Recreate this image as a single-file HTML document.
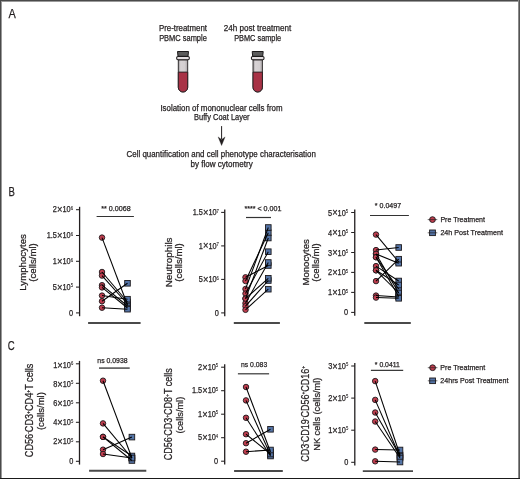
<!DOCTYPE html>
<html><head><meta charset="utf-8"><style>
html,body{margin:0;padding:0;background:#fff;}
svg{display:block;font-family:"Liberation Sans", sans-serif;will-change:transform;}
</style></head><body>
<svg width="520" height="479" viewBox="0 0 520 479">
<defs><linearGradient id="tg" x1="0" x2="1" y1="0" y2="0">
<stop offset="0" stop-color="#9a9698"/><stop offset="0.25" stop-color="#d8d3d5"/><stop offset="0.7" stop-color="#d3ced0"/><stop offset="1" stop-color="#a9a4a6"/></linearGradient></defs>
<rect x="0" y="0" width="520" height="1" fill="#4a4a4a"/>
<rect x="0" y="1" width="520" height="1" fill="#9a9a9a"/>
<rect x="0" y="0" width="1" height="479" fill="#4a4a4a"/>
<rect x="1" y="2" width="1" height="476" fill="#9a9a9a"/>
<rect x="518" y="0" width="1" height="479" fill="#8a8a8a"/>
<rect x="519" y="0" width="1" height="479" fill="#555555"/>
<rect x="0" y="478" width="520" height="1" fill="#1a1a1a"/>
<text x="8.4" y="17.8" font-size="12.2" text-anchor="start" fill="#231f20" textLength="7.3" lengthAdjust="spacingAndGlyphs" stroke="#231f20" stroke-width="0.25">A</text>
<text x="8.5" y="195.7" font-size="12.2" text-anchor="start" fill="#231f20" textLength="6.4" lengthAdjust="spacingAndGlyphs" stroke="#231f20" stroke-width="0.25">B</text>
<text x="7.8" y="349.8" font-size="12.2" text-anchor="start" fill="#231f20" textLength="6.9" lengthAdjust="spacingAndGlyphs" stroke="#231f20" stroke-width="0.25">C</text>
<text x="183" y="31.1" font-size="8.3" text-anchor="middle" fill="#231f20" textLength="48.1" lengthAdjust="spacingAndGlyphs" stroke="#231f20" stroke-width="0.25">Pre-treatment</text>
<text x="183" y="41" font-size="8.3" text-anchor="middle" fill="#231f20" textLength="47.7" lengthAdjust="spacingAndGlyphs" stroke="#231f20" stroke-width="0.25">PBMC sample</text>
<text x="257.5" y="31.1" font-size="8.3" text-anchor="middle" fill="#231f20" textLength="67.3" lengthAdjust="spacingAndGlyphs" stroke="#231f20" stroke-width="0.25">24h post treatment</text>
<text x="257.7" y="41" font-size="8.3" text-anchor="middle" fill="#231f20" textLength="47" lengthAdjust="spacingAndGlyphs" stroke="#231f20" stroke-width="0.25">PBMC sample</text>
<text x="221.5" y="111.1" font-size="8.3" text-anchor="middle" fill="#231f20" textLength="122.2" lengthAdjust="spacingAndGlyphs" stroke="#231f20" stroke-width="0.25">Isolation of mononuclear cells from</text>
<text x="221.8" y="120.2" font-size="8.3" text-anchor="middle" fill="#231f20" textLength="55.6" lengthAdjust="spacingAndGlyphs" stroke="#231f20" stroke-width="0.25">Buffy Coat Layer</text>
<text x="221.2" y="157.3" font-size="8.3" text-anchor="middle" fill="#231f20" textLength="189.3" lengthAdjust="spacingAndGlyphs" stroke="#231f20" stroke-width="0.25">Cell quantification and cell phenotype characterisation</text>
<text x="221.6" y="167.4" font-size="8.3" text-anchor="middle" fill="#231f20" textLength="62.3" lengthAdjust="spacingAndGlyphs" stroke="#231f20" stroke-width="0.25">by flow cytometry</text>
<g stroke="#231f20" stroke-width="0.9">
<path d="M178.3,59.8 L178.3,87.3 A4.7,4.7 0 0 0 187.7,87.3 L187.7,59.8 Z" fill="url(#tg)"/>
<path d="M178.3,72.1 L178.3,87.3 A4.7,4.7 0 0 0 187.7,87.3 L187.7,72.1 Z" fill="#a83246"/>
<path d="M177.5,51.5 L188.5,51.5 L188.0,56.3 L178.0,56.3 Z" fill="#5c5c5c" stroke="#1c1a1b" stroke-width="1"/>
<rect x="176.7" y="56.4" width="12.6" height="3.4" rx="1.2" fill="#e4dfe1" stroke="#1c1a1b" stroke-width="1.05"/>
</g>
<g stroke="#231f20" stroke-width="0.9">
<path d="M253.0,59.8 L253.0,87.3 A4.7,4.7 0 0 0 262.4,87.3 L262.4,59.8 Z" fill="url(#tg)"/>
<path d="M253.0,72.1 L253.0,87.3 A4.7,4.7 0 0 0 262.4,87.3 L262.4,72.1 Z" fill="#a83246"/>
<path d="M252.2,51.5 L263.2,51.5 L262.7,56.3 L252.7,56.3 Z" fill="#5c5c5c" stroke="#1c1a1b" stroke-width="1"/>
<rect x="251.39999999999998" y="56.4" width="12.6" height="3.4" rx="1.2" fill="#e4dfe1" stroke="#1c1a1b" stroke-width="1.05"/>
</g>
<line x1="221.6" y1="126.1" x2="221.6" y2="139" stroke="#231f20" stroke-width="1"/>
<path d="M218.1,136.9 L221.6,139.4 L225.1,136.9 L221.6,145.6 Z" fill="#231f20" stroke="#231f20" stroke-width="0.3" stroke-linejoin="round"/>
<line x1="79.6" y1="206.79999999999998" x2="79.6" y2="316.2" stroke="#231f20" stroke-width="1.3"/>
<line x1="76.0" y1="209.7" x2="79.6" y2="209.7" stroke="#231f20" stroke-width="1.05"/>
<text x="73.0" y="212.35" font-size="8.2" text-anchor="end" fill="#231f20" textLength="20.13" lengthAdjust="spacingAndGlyphs" stroke="#231f20" stroke-width="0.25">2<tspan font-size="10.4" dy="0.9">×</tspan><tspan dy="-0.9">10</tspan><tspan font-size="4.7" dy="-2.4" stroke-width="0.1">6</tspan></text>
<line x1="76.0" y1="235.5" x2="79.6" y2="235.5" stroke="#231f20" stroke-width="1.05"/>
<text x="73.0" y="238.15" font-size="8.2" text-anchor="end" fill="#231f20" textLength="26.29" lengthAdjust="spacingAndGlyphs" stroke="#231f20" stroke-width="0.25">1.5<tspan font-size="10.4" dy="0.9">×</tspan><tspan dy="-0.9">10</tspan><tspan font-size="4.7" dy="-2.4" stroke-width="0.1">6</tspan></text>
<line x1="76.0" y1="261.3" x2="79.6" y2="261.3" stroke="#231f20" stroke-width="1.05"/>
<text x="73.0" y="263.95" font-size="8.2" text-anchor="end" fill="#231f20" textLength="20.13" lengthAdjust="spacingAndGlyphs" stroke="#231f20" stroke-width="0.25">1<tspan font-size="10.4" dy="0.9">×</tspan><tspan dy="-0.9">10</tspan><tspan font-size="4.7" dy="-2.4" stroke-width="0.1">6</tspan></text>
<line x1="76.0" y1="287.1" x2="79.6" y2="287.1" stroke="#231f20" stroke-width="1.05"/>
<text x="73.0" y="289.75" font-size="8.2" text-anchor="end" fill="#231f20" textLength="20.13" lengthAdjust="spacingAndGlyphs" stroke="#231f20" stroke-width="0.25">5<tspan font-size="10.4" dy="0.9">×</tspan><tspan dy="-0.9">10</tspan><tspan font-size="4.7" dy="-2.4" stroke-width="0.1">5</tspan></text>
<line x1="76.0" y1="312.9" x2="79.6" y2="312.9" stroke="#231f20" stroke-width="1.05"/>
<text x="73.0" y="315.55" font-size="8.2" text-anchor="end" fill="#231f20" textLength="4.1" lengthAdjust="spacingAndGlyphs" stroke="#231f20" stroke-width="0.25">0</text>
<line x1="88.1" y1="323" x2="140.6" y2="323" stroke="#4a4a4a" stroke-width="1.9"/>
<line x1="96.6" y1="216.5" x2="133.9" y2="216.5" stroke="#333" stroke-width="1.2"/>
<text x="101.3" y="211" font-size="7.4" text-anchor="start" fill="#231f20" textLength="29.4" lengthAdjust="spacingAndGlyphs" stroke="#231f20" stroke-width="0.25">** 0.0068</text>
<circle cx="102" cy="237.6" r="2.75" fill="#bf3d4e" stroke="#1d1a1c" stroke-width="0.9"/>
<circle cx="102" cy="272" r="2.75" fill="#bf3d4e" stroke="#1d1a1c" stroke-width="0.9"/>
<circle cx="102" cy="275.6" r="2.75" fill="#bf3d4e" stroke="#1d1a1c" stroke-width="0.9"/>
<circle cx="102" cy="285.2" r="2.75" fill="#bf3d4e" stroke="#1d1a1c" stroke-width="0.9"/>
<circle cx="102" cy="287.4" r="2.75" fill="#bf3d4e" stroke="#1d1a1c" stroke-width="0.9"/>
<circle cx="102" cy="295.6" r="2.75" fill="#bf3d4e" stroke="#1d1a1c" stroke-width="0.9"/>
<circle cx="102" cy="301.2" r="2.75" fill="#bf3d4e" stroke="#1d1a1c" stroke-width="0.9"/>
<circle cx="102" cy="307.7" r="2.75" fill="#bf3d4e" stroke="#1d1a1c" stroke-width="0.9"/>
<rect x="124.7" y="302.2" width="5.6" height="5.6" fill="#5474a6" stroke="#1d1a1c" stroke-width="0.9"/>
<rect x="124.7" y="299.2" width="5.6" height="5.6" fill="#5474a6" stroke="#1d1a1c" stroke-width="0.9"/>
<rect x="124.7" y="301.2" width="5.6" height="5.6" fill="#5474a6" stroke="#1d1a1c" stroke-width="0.9"/>
<rect x="124.7" y="303.2" width="5.6" height="5.6" fill="#5474a6" stroke="#1d1a1c" stroke-width="0.9"/>
<rect x="124.7" y="305.2" width="5.6" height="5.6" fill="#5474a6" stroke="#1d1a1c" stroke-width="0.9"/>
<rect x="124.7" y="296.4" width="5.6" height="5.6" fill="#5474a6" stroke="#1d1a1c" stroke-width="0.9"/>
<rect x="124.7" y="280.5" width="5.6" height="5.6" fill="#5474a6" stroke="#1d1a1c" stroke-width="0.9"/>
<rect x="124.7" y="306.4" width="5.6" height="5.6" fill="#5474a6" stroke="#1d1a1c" stroke-width="0.9"/>
<line x1="102" y1="237.6" x2="127.5" y2="305" stroke="#000" stroke-width="1.05"/>
<line x1="102" y1="272" x2="127.5" y2="302" stroke="#000" stroke-width="1.05"/>
<line x1="102" y1="275.6" x2="127.5" y2="304" stroke="#000" stroke-width="1.05"/>
<line x1="102" y1="285.2" x2="127.5" y2="306" stroke="#000" stroke-width="1.05"/>
<line x1="102" y1="287.4" x2="127.5" y2="308" stroke="#000" stroke-width="1.05"/>
<line x1="102" y1="295.6" x2="127.5" y2="299.2" stroke="#000" stroke-width="1.05"/>
<line x1="102" y1="301.2" x2="127.5" y2="283.3" stroke="#000" stroke-width="1.05"/>
<line x1="102" y1="307.7" x2="127.5" y2="309.2" stroke="#000" stroke-width="1.05"/>
<text transform="translate(25.9,262.4) rotate(-90)" x="0" y="0" font-size="8.9" text-anchor="middle" fill="#231f20" textLength="56.5" lengthAdjust="spacingAndGlyphs" stroke="#231f20" stroke-width="0.25">Lymphocytes</text>
<text transform="translate(35.9,262.5) rotate(-90)" x="0" y="0" font-size="8.9" text-anchor="middle" fill="#231f20" textLength="38.4" lengthAdjust="spacingAndGlyphs" stroke="#231f20" stroke-width="0.25">(cells/ml)</text>
<line x1="224.75" y1="209.5" x2="224.75" y2="316.2" stroke="#231f20" stroke-width="1.3"/>
<line x1="221.15" y1="212.4" x2="224.75" y2="212.4" stroke="#231f20" stroke-width="1.05"/>
<text x="218.95" y="215.05" font-size="8.2" text-anchor="end" fill="#231f20" textLength="26.29" lengthAdjust="spacingAndGlyphs" stroke="#231f20" stroke-width="0.25">1.5<tspan font-size="10.4" dy="0.9">×</tspan><tspan dy="-0.9">10</tspan><tspan font-size="4.7" dy="-2.4" stroke-width="0.1">7</tspan></text>
<line x1="221.15" y1="245.9" x2="224.75" y2="245.9" stroke="#231f20" stroke-width="1.05"/>
<text x="218.95" y="248.55" font-size="8.2" text-anchor="end" fill="#231f20" textLength="20.13" lengthAdjust="spacingAndGlyphs" stroke="#231f20" stroke-width="0.25">1<tspan font-size="10.4" dy="0.9">×</tspan><tspan dy="-0.9">10</tspan><tspan font-size="4.7" dy="-2.4" stroke-width="0.1">7</tspan></text>
<line x1="221.15" y1="279.4" x2="224.75" y2="279.4" stroke="#231f20" stroke-width="1.05"/>
<text x="218.95" y="282.05" font-size="8.2" text-anchor="end" fill="#231f20" textLength="20.13" lengthAdjust="spacingAndGlyphs" stroke="#231f20" stroke-width="0.25">5<tspan font-size="10.4" dy="0.9">×</tspan><tspan dy="-0.9">10</tspan><tspan font-size="4.7" dy="-2.4" stroke-width="0.1">6</tspan></text>
<line x1="221.15" y1="312.9" x2="224.75" y2="312.9" stroke="#231f20" stroke-width="1.05"/>
<text x="218.95" y="315.55" font-size="8.2" text-anchor="end" fill="#231f20" textLength="4.1" lengthAdjust="spacingAndGlyphs" stroke="#231f20" stroke-width="0.25">0</text>
<line x1="233.8" y1="323" x2="279.9" y2="323" stroke="#4a4a4a" stroke-width="1.9"/>
<line x1="246" y1="217.5" x2="271" y2="217.5" stroke="#333" stroke-width="1.2"/>
<text x="244.4" y="210.7" font-size="7.4" text-anchor="start" fill="#231f20" textLength="37.0" lengthAdjust="spacingAndGlyphs" stroke="#231f20" stroke-width="0.25">**** &lt; 0.001</text>
<circle cx="245.5" cy="277.3" r="2.75" fill="#bf3d4e" stroke="#1d1a1c" stroke-width="0.9"/>
<circle cx="245.5" cy="281" r="2.75" fill="#bf3d4e" stroke="#1d1a1c" stroke-width="0.9"/>
<circle cx="245.5" cy="289" r="2.75" fill="#bf3d4e" stroke="#1d1a1c" stroke-width="0.9"/>
<circle cx="245.5" cy="293.6" r="2.75" fill="#bf3d4e" stroke="#1d1a1c" stroke-width="0.9"/>
<circle cx="245.5" cy="298.6" r="2.75" fill="#bf3d4e" stroke="#1d1a1c" stroke-width="0.9"/>
<circle cx="245.5" cy="303.2" r="2.75" fill="#bf3d4e" stroke="#1d1a1c" stroke-width="0.9"/>
<circle cx="245.5" cy="306.2" r="2.75" fill="#bf3d4e" stroke="#1d1a1c" stroke-width="0.9"/>
<circle cx="245.5" cy="309.8" r="2.75" fill="#bf3d4e" stroke="#1d1a1c" stroke-width="0.9"/>
<circle cx="245.5" cy="298.6" r="2.75" fill="#bf3d4e" stroke="#1d1a1c" stroke-width="0.9"/>
<rect x="265.5" y="262.7" width="5.6" height="5.6" fill="#5474a6" stroke="#1d1a1c" stroke-width="0.9"/>
<rect x="265.5" y="230.0" width="5.6" height="5.6" fill="#5474a6" stroke="#1d1a1c" stroke-width="0.9"/>
<rect x="265.5" y="224.7" width="5.6" height="5.6" fill="#5474a6" stroke="#1d1a1c" stroke-width="0.9"/>
<rect x="265.5" y="248.89999999999998" width="5.6" height="5.6" fill="#5474a6" stroke="#1d1a1c" stroke-width="0.9"/>
<rect x="265.5" y="235.2" width="5.6" height="5.6" fill="#5474a6" stroke="#1d1a1c" stroke-width="0.9"/>
<rect x="265.5" y="259.7" width="5.6" height="5.6" fill="#5474a6" stroke="#1d1a1c" stroke-width="0.9"/>
<rect x="265.5" y="277.7" width="5.6" height="5.6" fill="#5474a6" stroke="#1d1a1c" stroke-width="0.9"/>
<rect x="265.5" y="286.4" width="5.6" height="5.6" fill="#5474a6" stroke="#1d1a1c" stroke-width="0.9"/>
<rect x="265.5" y="275.5" width="5.6" height="5.6" fill="#5474a6" stroke="#1d1a1c" stroke-width="0.9"/>
<line x1="245.5" y1="277.3" x2="268.3" y2="265.5" stroke="#000" stroke-width="1.05"/>
<line x1="245.5" y1="281" x2="268.3" y2="232.8" stroke="#000" stroke-width="1.05"/>
<line x1="245.5" y1="289" x2="268.3" y2="227.5" stroke="#000" stroke-width="1.05"/>
<line x1="245.5" y1="293.6" x2="268.3" y2="251.7" stroke="#000" stroke-width="1.05"/>
<line x1="245.5" y1="298.6" x2="268.3" y2="238" stroke="#000" stroke-width="1.05"/>
<line x1="245.5" y1="303.2" x2="268.3" y2="262.5" stroke="#000" stroke-width="1.05"/>
<line x1="245.5" y1="306.2" x2="268.3" y2="280.5" stroke="#000" stroke-width="1.05"/>
<line x1="245.5" y1="309.8" x2="268.3" y2="289.2" stroke="#000" stroke-width="1.05"/>
<line x1="245.5" y1="298.6" x2="268.3" y2="278.3" stroke="#000" stroke-width="1.05"/>
<text transform="translate(171.6,262.4) rotate(-90)" x="0" y="0" font-size="8.9" text-anchor="middle" fill="#231f20" textLength="49.8" lengthAdjust="spacingAndGlyphs" stroke="#231f20" stroke-width="0.25">Neutrophils</text>
<text transform="translate(181.6,262.5) rotate(-90)" x="0" y="0" font-size="8.9" text-anchor="middle" fill="#231f20" textLength="38.4" lengthAdjust="spacingAndGlyphs" stroke="#231f20" stroke-width="0.25">(cells/ml)</text>
<line x1="354.75" y1="209.6" x2="354.75" y2="315.7" stroke="#231f20" stroke-width="1.3"/>
<line x1="351.15" y1="212.5" x2="354.75" y2="212.5" stroke="#231f20" stroke-width="1.05"/>
<text x="348.15" y="215.5" font-size="8.2" text-anchor="end" fill="#231f20" textLength="20.13" lengthAdjust="spacingAndGlyphs" stroke="#231f20" stroke-width="0.25">5<tspan font-size="10.4" dy="0.9">×</tspan><tspan dy="-0.9">10</tspan><tspan font-size="4.7" dy="-2.4" stroke-width="0.1">5</tspan></text>
<line x1="351.15" y1="232.5" x2="354.75" y2="232.5" stroke="#231f20" stroke-width="1.05"/>
<text x="348.15" y="235.5" font-size="8.2" text-anchor="end" fill="#231f20" textLength="20.13" lengthAdjust="spacingAndGlyphs" stroke="#231f20" stroke-width="0.25">4<tspan font-size="10.4" dy="0.9">×</tspan><tspan dy="-0.9">10</tspan><tspan font-size="4.7" dy="-2.4" stroke-width="0.1">5</tspan></text>
<line x1="351.15" y1="252.5" x2="354.75" y2="252.5" stroke="#231f20" stroke-width="1.05"/>
<text x="348.15" y="255.5" font-size="8.2" text-anchor="end" fill="#231f20" textLength="20.13" lengthAdjust="spacingAndGlyphs" stroke="#231f20" stroke-width="0.25">3<tspan font-size="10.4" dy="0.9">×</tspan><tspan dy="-0.9">10</tspan><tspan font-size="4.7" dy="-2.4" stroke-width="0.1">5</tspan></text>
<line x1="351.15" y1="272.4" x2="354.75" y2="272.4" stroke="#231f20" stroke-width="1.05"/>
<text x="348.15" y="275.4" font-size="8.2" text-anchor="end" fill="#231f20" textLength="20.13" lengthAdjust="spacingAndGlyphs" stroke="#231f20" stroke-width="0.25">2<tspan font-size="10.4" dy="0.9">×</tspan><tspan dy="-0.9">10</tspan><tspan font-size="4.7" dy="-2.4" stroke-width="0.1">5</tspan></text>
<line x1="351.15" y1="292.4" x2="354.75" y2="292.4" stroke="#231f20" stroke-width="1.05"/>
<text x="348.15" y="295.4" font-size="8.2" text-anchor="end" fill="#231f20" textLength="20.13" lengthAdjust="spacingAndGlyphs" stroke="#231f20" stroke-width="0.25">1<tspan font-size="10.4" dy="0.9">×</tspan><tspan dy="-0.9">10</tspan><tspan font-size="4.7" dy="-2.4" stroke-width="0.1">5</tspan></text>
<line x1="351.15" y1="312.4" x2="354.75" y2="312.4" stroke="#231f20" stroke-width="1.05"/>
<text x="348.15" y="315.4" font-size="8.2" text-anchor="end" fill="#231f20" textLength="4.1" lengthAdjust="spacingAndGlyphs" stroke="#231f20" stroke-width="0.25">0</text>
<line x1="364.3" y1="323" x2="410.8" y2="323" stroke="#4a4a4a" stroke-width="1.9"/>
<line x1="370" y1="215.5" x2="408.9" y2="215.5" stroke="#333" stroke-width="1.2"/>
<text x="374.8" y="208.4" font-size="7.4" text-anchor="start" fill="#231f20" textLength="26.3" lengthAdjust="spacingAndGlyphs" stroke="#231f20" stroke-width="0.25">* 0.0497</text>
<circle cx="376" cy="234.6" r="2.75" fill="#bf3d4e" stroke="#1d1a1c" stroke-width="0.9"/>
<circle cx="376" cy="250.1" r="2.75" fill="#bf3d4e" stroke="#1d1a1c" stroke-width="0.9"/>
<circle cx="376" cy="253.9" r="2.75" fill="#bf3d4e" stroke="#1d1a1c" stroke-width="0.9"/>
<circle cx="376" cy="253.9" r="2.75" fill="#bf3d4e" stroke="#1d1a1c" stroke-width="0.9"/>
<circle cx="376" cy="257.2" r="2.75" fill="#bf3d4e" stroke="#1d1a1c" stroke-width="0.9"/>
<circle cx="376" cy="257.2" r="2.75" fill="#bf3d4e" stroke="#1d1a1c" stroke-width="0.9"/>
<circle cx="376" cy="266.1" r="2.75" fill="#bf3d4e" stroke="#1d1a1c" stroke-width="0.9"/>
<circle cx="376" cy="270.3" r="2.75" fill="#bf3d4e" stroke="#1d1a1c" stroke-width="0.9"/>
<circle cx="376" cy="270.3" r="2.75" fill="#bf3d4e" stroke="#1d1a1c" stroke-width="0.9"/>
<circle cx="376" cy="281.1" r="2.75" fill="#bf3d4e" stroke="#1d1a1c" stroke-width="0.9"/>
<circle cx="376" cy="295.6" r="2.75" fill="#bf3d4e" stroke="#1d1a1c" stroke-width="0.9"/>
<circle cx="376" cy="297.6" r="2.75" fill="#bf3d4e" stroke="#1d1a1c" stroke-width="0.9"/>
<rect x="395.9" y="259.2" width="5.6" height="5.6" fill="#5474a6" stroke="#1d1a1c" stroke-width="0.9"/>
<rect x="395.9" y="244.7" width="5.6" height="5.6" fill="#5474a6" stroke="#1d1a1c" stroke-width="0.9"/>
<rect x="395.9" y="260.4" width="5.6" height="5.6" fill="#5474a6" stroke="#1d1a1c" stroke-width="0.9"/>
<rect x="395.9" y="290.2" width="5.6" height="5.6" fill="#5474a6" stroke="#1d1a1c" stroke-width="0.9"/>
<rect x="395.9" y="286.2" width="5.6" height="5.6" fill="#5474a6" stroke="#1d1a1c" stroke-width="0.9"/>
<rect x="395.9" y="293.7" width="5.6" height="5.6" fill="#5474a6" stroke="#1d1a1c" stroke-width="0.9"/>
<rect x="395.9" y="278.2" width="5.6" height="5.6" fill="#5474a6" stroke="#1d1a1c" stroke-width="0.9"/>
<rect x="395.9" y="282.2" width="5.6" height="5.6" fill="#5474a6" stroke="#1d1a1c" stroke-width="0.9"/>
<rect x="395.9" y="290.2" width="5.6" height="5.6" fill="#5474a6" stroke="#1d1a1c" stroke-width="0.9"/>
<rect x="395.9" y="256.4" width="5.6" height="5.6" fill="#5474a6" stroke="#1d1a1c" stroke-width="0.9"/>
<rect x="395.9" y="294.2" width="5.6" height="5.6" fill="#5474a6" stroke="#1d1a1c" stroke-width="0.9"/>
<rect x="395.9" y="295.5" width="5.6" height="5.6" fill="#5474a6" stroke="#1d1a1c" stroke-width="0.9"/>
<line x1="376" y1="234.6" x2="398.7" y2="262" stroke="#000" stroke-width="1.05"/>
<line x1="376" y1="250.1" x2="398.7" y2="247.5" stroke="#000" stroke-width="1.05"/>
<line x1="376" y1="253.9" x2="398.7" y2="263.2" stroke="#000" stroke-width="1.05"/>
<line x1="376" y1="253.9" x2="398.7" y2="293" stroke="#000" stroke-width="1.05"/>
<line x1="376" y1="257.2" x2="398.7" y2="289" stroke="#000" stroke-width="1.05"/>
<line x1="376" y1="257.2" x2="398.7" y2="296.5" stroke="#000" stroke-width="1.05"/>
<line x1="376" y1="266.1" x2="398.7" y2="281" stroke="#000" stroke-width="1.05"/>
<line x1="376" y1="270.3" x2="398.7" y2="285" stroke="#000" stroke-width="1.05"/>
<line x1="376" y1="270.3" x2="398.7" y2="293" stroke="#000" stroke-width="1.05"/>
<line x1="376" y1="281.1" x2="398.7" y2="259.2" stroke="#000" stroke-width="1.05"/>
<line x1="376" y1="295.6" x2="398.7" y2="297" stroke="#000" stroke-width="1.05"/>
<line x1="376" y1="297.6" x2="398.7" y2="298.3" stroke="#000" stroke-width="1.05"/>
<text transform="translate(308.8,262.4) rotate(-90)" x="0" y="0" font-size="8.9" text-anchor="middle" fill="#231f20" textLength="46.3" lengthAdjust="spacingAndGlyphs" stroke="#231f20" stroke-width="0.25">Monocytes</text>
<text transform="translate(319.2,262.5) rotate(-90)" x="0" y="0" font-size="8.9" text-anchor="middle" fill="#231f20" textLength="38.4" lengthAdjust="spacingAndGlyphs" stroke="#231f20" stroke-width="0.25">(cells/ml)</text>
<line x1="79.5" y1="360.90000000000003" x2="79.5" y2="464.6" stroke="#231f20" stroke-width="1.3"/>
<line x1="75.9" y1="363.8" x2="79.5" y2="363.8" stroke="#231f20" stroke-width="1.05"/>
<text x="73.3" y="367.6" font-size="8.2" text-anchor="end" fill="#231f20" textLength="20.13" lengthAdjust="spacingAndGlyphs" stroke="#231f20" stroke-width="0.25">1<tspan font-size="10.4" dy="0.9">×</tspan><tspan dy="-0.9">10</tspan><tspan font-size="4.7" dy="-2.4" stroke-width="0.1">6</tspan></text>
<line x1="75.9" y1="383.3" x2="79.5" y2="383.3" stroke="#231f20" stroke-width="1.05"/>
<text x="73.3" y="386.8" font-size="8.2" text-anchor="end" fill="#231f20" textLength="20.13" lengthAdjust="spacingAndGlyphs" stroke="#231f20" stroke-width="0.25">8<tspan font-size="10.4" dy="0.9">×</tspan><tspan dy="-0.9">10</tspan><tspan font-size="4.7" dy="-2.4" stroke-width="0.1">5</tspan></text>
<line x1="75.9" y1="402.8" x2="79.5" y2="402.8" stroke="#231f20" stroke-width="1.05"/>
<text x="73.3" y="406.0" font-size="8.2" text-anchor="end" fill="#231f20" textLength="20.13" lengthAdjust="spacingAndGlyphs" stroke="#231f20" stroke-width="0.25">6<tspan font-size="10.4" dy="0.9">×</tspan><tspan dy="-0.9">10</tspan><tspan font-size="4.7" dy="-2.4" stroke-width="0.1">5</tspan></text>
<line x1="75.9" y1="422.3" x2="79.5" y2="422.3" stroke="#231f20" stroke-width="1.05"/>
<text x="73.3" y="425.2" font-size="8.2" text-anchor="end" fill="#231f20" textLength="20.13" lengthAdjust="spacingAndGlyphs" stroke="#231f20" stroke-width="0.25">4<tspan font-size="10.4" dy="0.9">×</tspan><tspan dy="-0.9">10</tspan><tspan font-size="4.7" dy="-2.4" stroke-width="0.1">5</tspan></text>
<line x1="75.9" y1="441.8" x2="79.5" y2="441.8" stroke="#231f20" stroke-width="1.05"/>
<text x="73.3" y="444.4" font-size="8.2" text-anchor="end" fill="#231f20" textLength="20.13" lengthAdjust="spacingAndGlyphs" stroke="#231f20" stroke-width="0.25">2<tspan font-size="10.4" dy="0.9">×</tspan><tspan dy="-0.9">10</tspan><tspan font-size="4.7" dy="-2.4" stroke-width="0.1">5</tspan></text>
<line x1="75.9" y1="461.3" x2="79.5" y2="461.3" stroke="#231f20" stroke-width="1.05"/>
<text x="73.3" y="463.6" font-size="8.2" text-anchor="end" fill="#231f20" textLength="4.1" lengthAdjust="spacingAndGlyphs" stroke="#231f20" stroke-width="0.25">0</text>
<line x1="89.1" y1="470.7" x2="146.3" y2="470.7" stroke="#4a4a4a" stroke-width="1.9"/>
<line x1="99" y1="368.1" x2="129.7" y2="368.1" stroke="#575757" stroke-width="1.6"/>
<text x="97.3" y="363.2" font-size="7.4" text-anchor="start" fill="#231f20" textLength="30.3" lengthAdjust="spacingAndGlyphs" stroke="#231f20" stroke-width="0.25">ns 0.0938</text>
<circle cx="103" cy="380.7" r="2.75" fill="#bf3d4e" stroke="#1d1a1c" stroke-width="0.9"/>
<circle cx="103" cy="423.4" r="2.75" fill="#bf3d4e" stroke="#1d1a1c" stroke-width="0.9"/>
<circle cx="103" cy="436.9" r="2.75" fill="#bf3d4e" stroke="#1d1a1c" stroke-width="0.9"/>
<circle cx="103" cy="436.9" r="2.75" fill="#bf3d4e" stroke="#1d1a1c" stroke-width="0.9"/>
<circle cx="103" cy="449.7" r="2.75" fill="#bf3d4e" stroke="#1d1a1c" stroke-width="0.9"/>
<circle cx="103" cy="454" r="2.75" fill="#bf3d4e" stroke="#1d1a1c" stroke-width="0.9"/>
<rect x="129.1" y="455.2" width="5.6" height="5.6" fill="#5474a6" stroke="#1d1a1c" stroke-width="0.9"/>
<rect x="129.1" y="455.2" width="5.6" height="5.6" fill="#5474a6" stroke="#1d1a1c" stroke-width="0.9"/>
<rect x="129.1" y="453.2" width="5.6" height="5.6" fill="#5474a6" stroke="#1d1a1c" stroke-width="0.9"/>
<rect x="129.1" y="457.7" width="5.6" height="5.6" fill="#5474a6" stroke="#1d1a1c" stroke-width="0.9"/>
<rect x="129.1" y="434.3" width="5.6" height="5.6" fill="#5474a6" stroke="#1d1a1c" stroke-width="0.9"/>
<rect x="129.1" y="455.2" width="5.6" height="5.6" fill="#5474a6" stroke="#1d1a1c" stroke-width="0.9"/>
<line x1="103" y1="380.7" x2="131.9" y2="458" stroke="#000" stroke-width="1.05"/>
<line x1="103" y1="423.4" x2="131.9" y2="458" stroke="#000" stroke-width="1.05"/>
<line x1="103" y1="436.9" x2="131.9" y2="456" stroke="#000" stroke-width="1.05"/>
<line x1="103" y1="436.9" x2="131.9" y2="460.5" stroke="#000" stroke-width="1.05"/>
<line x1="103" y1="449.7" x2="131.9" y2="437.1" stroke="#000" stroke-width="1.05"/>
<line x1="103" y1="454" x2="131.9" y2="458" stroke="#000" stroke-width="1.05"/>
<text transform="translate(33.0,410.4) rotate(-90)" x="0" y="0" font-size="10.0" text-anchor="middle" fill="#231f20" textLength="93.5" lengthAdjust="spacingAndGlyphs" stroke="#231f20" stroke-width="0.25">CD56<tspan font-size="5.5" dy="-3.5">-</tspan><tspan dy="3.5">CD3</tspan><tspan font-size="5.5" dy="-3.5">+</tspan><tspan dy="3.5">CD4</tspan><tspan font-size="5.5" dy="-3.5">+</tspan><tspan dy="3.5">T cells</tspan></text>
<text transform="translate(43.6,411.1) rotate(-90)" x="0" y="0" font-size="9.6" text-anchor="middle" fill="#231f20" textLength="37.9" lengthAdjust="spacingAndGlyphs" stroke="#231f20" stroke-width="0.25">(cells/ml)</text>
<line x1="224.7" y1="364.3" x2="224.7" y2="464.5" stroke="#231f20" stroke-width="1.3"/>
<line x1="221.1" y1="367.2" x2="224.7" y2="367.2" stroke="#231f20" stroke-width="1.05"/>
<text x="218.2" y="369.85" font-size="8.2" text-anchor="end" fill="#231f20" textLength="20.13" lengthAdjust="spacingAndGlyphs" stroke="#231f20" stroke-width="0.25">2<tspan font-size="10.4" dy="0.9">×</tspan><tspan dy="-0.9">10</tspan><tspan font-size="4.7" dy="-2.4" stroke-width="0.1">5</tspan></text>
<line x1="221.1" y1="390.7" x2="224.7" y2="390.7" stroke="#231f20" stroke-width="1.05"/>
<text x="218.2" y="393.35" font-size="8.2" text-anchor="end" fill="#231f20" textLength="26.29" lengthAdjust="spacingAndGlyphs" stroke="#231f20" stroke-width="0.25">1.5<tspan font-size="10.4" dy="0.9">×</tspan><tspan dy="-0.9">10</tspan><tspan font-size="4.7" dy="-2.4" stroke-width="0.1">5</tspan></text>
<line x1="221.1" y1="414.2" x2="224.7" y2="414.2" stroke="#231f20" stroke-width="1.05"/>
<text x="218.2" y="416.85" font-size="8.2" text-anchor="end" fill="#231f20" textLength="20.13" lengthAdjust="spacingAndGlyphs" stroke="#231f20" stroke-width="0.25">1<tspan font-size="10.4" dy="0.9">×</tspan><tspan dy="-0.9">10</tspan><tspan font-size="4.7" dy="-2.4" stroke-width="0.1">5</tspan></text>
<line x1="221.1" y1="437.7" x2="224.7" y2="437.7" stroke="#231f20" stroke-width="1.05"/>
<text x="218.2" y="440.35" font-size="8.2" text-anchor="end" fill="#231f20" textLength="20.13" lengthAdjust="spacingAndGlyphs" stroke="#231f20" stroke-width="0.25">5<tspan font-size="10.4" dy="0.9">×</tspan><tspan dy="-0.9">10</tspan><tspan font-size="4.7" dy="-2.4" stroke-width="0.1">4</tspan></text>
<line x1="221.1" y1="461.2" x2="224.7" y2="461.2" stroke="#231f20" stroke-width="1.05"/>
<text x="218.2" y="463.85" font-size="8.2" text-anchor="end" fill="#231f20" textLength="4.1" lengthAdjust="spacingAndGlyphs" stroke="#231f20" stroke-width="0.25">0</text>
<line x1="234.1" y1="471" x2="282.8" y2="471" stroke="#4a4a4a" stroke-width="1.9"/>
<line x1="237.9" y1="373.75" x2="269.1" y2="373.75" stroke="#5e5e5e" stroke-width="1.6"/>
<text x="241" y="366.9" font-size="7.4" text-anchor="start" fill="#231f20" textLength="26.2" lengthAdjust="spacingAndGlyphs" stroke="#231f20" stroke-width="0.25">ns 0.083</text>
<circle cx="246" cy="387" r="2.75" fill="#bf3d4e" stroke="#1d1a1c" stroke-width="0.9"/>
<circle cx="246" cy="400.4" r="2.75" fill="#bf3d4e" stroke="#1d1a1c" stroke-width="0.9"/>
<circle cx="246" cy="417.8" r="2.75" fill="#bf3d4e" stroke="#1d1a1c" stroke-width="0.9"/>
<circle cx="246" cy="434.2" r="2.75" fill="#bf3d4e" stroke="#1d1a1c" stroke-width="0.9"/>
<circle cx="246" cy="443.2" r="2.75" fill="#bf3d4e" stroke="#1d1a1c" stroke-width="0.9"/>
<circle cx="246" cy="451.7" r="2.75" fill="#bf3d4e" stroke="#1d1a1c" stroke-width="0.9"/>
<rect x="267.7" y="449.2" width="5.6" height="5.6" fill="#5474a6" stroke="#1d1a1c" stroke-width="0.9"/>
<rect x="267.7" y="452.2" width="5.6" height="5.6" fill="#5474a6" stroke="#1d1a1c" stroke-width="0.9"/>
<rect x="267.7" y="453.2" width="5.6" height="5.6" fill="#5474a6" stroke="#1d1a1c" stroke-width="0.9"/>
<rect x="267.7" y="451.2" width="5.6" height="5.6" fill="#5474a6" stroke="#1d1a1c" stroke-width="0.9"/>
<rect x="267.7" y="426.5" width="5.6" height="5.6" fill="#5474a6" stroke="#1d1a1c" stroke-width="0.9"/>
<rect x="267.7" y="447.2" width="5.6" height="5.6" fill="#5474a6" stroke="#1d1a1c" stroke-width="0.9"/>
<line x1="246" y1="387" x2="270.5" y2="452" stroke="#000" stroke-width="1.05"/>
<line x1="246" y1="400.4" x2="270.5" y2="455" stroke="#000" stroke-width="1.05"/>
<line x1="246" y1="417.8" x2="270.5" y2="456" stroke="#000" stroke-width="1.05"/>
<line x1="246" y1="434.2" x2="270.5" y2="454" stroke="#000" stroke-width="1.05"/>
<line x1="246" y1="443.2" x2="270.5" y2="429.3" stroke="#000" stroke-width="1.05"/>
<line x1="246" y1="451.7" x2="270.5" y2="450" stroke="#000" stroke-width="1.05"/>
<text transform="translate(172.1,414.3) rotate(-90)" x="0" y="0" font-size="10.0" text-anchor="middle" fill="#231f20" textLength="92" lengthAdjust="spacingAndGlyphs" stroke="#231f20" stroke-width="0.25">CD56<tspan font-size="5.5" dy="-3.5">-</tspan><tspan dy="3.5">CD3</tspan><tspan font-size="5.5" dy="-3.5">+</tspan><tspan dy="3.5">CD8</tspan><tspan font-size="5.5" dy="-3.5">+</tspan><tspan dy="3.5">T cells</tspan></text>
<text transform="translate(182.6,415.2) rotate(-90)" x="0" y="0" font-size="9.6" text-anchor="middle" fill="#231f20" textLength="36.8" lengthAdjust="spacingAndGlyphs" stroke="#231f20" stroke-width="0.25">(cells/ml)</text>
<line x1="354.8" y1="363.1" x2="354.8" y2="465.6" stroke="#231f20" stroke-width="1.3"/>
<line x1="351.2" y1="366" x2="354.8" y2="366" stroke="#231f20" stroke-width="1.05"/>
<text x="348.3" y="368.65" font-size="8.2" text-anchor="end" fill="#231f20" textLength="20.13" lengthAdjust="spacingAndGlyphs" stroke="#231f20" stroke-width="0.25">3<tspan font-size="10.4" dy="0.9">×</tspan><tspan dy="-0.9">10</tspan><tspan font-size="4.7" dy="-2.4" stroke-width="0.1">5</tspan></text>
<line x1="351.2" y1="398.1" x2="354.8" y2="398.1" stroke="#231f20" stroke-width="1.05"/>
<text x="348.3" y="400.75" font-size="8.2" text-anchor="end" fill="#231f20" textLength="20.13" lengthAdjust="spacingAndGlyphs" stroke="#231f20" stroke-width="0.25">2<tspan font-size="10.4" dy="0.9">×</tspan><tspan dy="-0.9">10</tspan><tspan font-size="4.7" dy="-2.4" stroke-width="0.1">5</tspan></text>
<line x1="351.2" y1="430.2" x2="354.8" y2="430.2" stroke="#231f20" stroke-width="1.05"/>
<text x="348.3" y="432.85" font-size="8.2" text-anchor="end" fill="#231f20" textLength="20.13" lengthAdjust="spacingAndGlyphs" stroke="#231f20" stroke-width="0.25">1<tspan font-size="10.4" dy="0.9">×</tspan><tspan dy="-0.9">10</tspan><tspan font-size="4.7" dy="-2.4" stroke-width="0.1">5</tspan></text>
<line x1="351.2" y1="462.3" x2="354.8" y2="462.3" stroke="#231f20" stroke-width="1.05"/>
<text x="348.3" y="464.95" font-size="8.2" text-anchor="end" fill="#231f20" textLength="4.1" lengthAdjust="spacingAndGlyphs" stroke="#231f20" stroke-width="0.25">0</text>
<line x1="362.8" y1="471.1" x2="413" y2="471.1" stroke="#4a4a4a" stroke-width="1.9"/>
<line x1="370.9" y1="370.4" x2="403.2" y2="370.4" stroke="#3a3a3a" stroke-width="1.3"/>
<text x="374.8" y="366.9" font-size="7.4" text-anchor="start" fill="#231f20" textLength="25.1" lengthAdjust="spacingAndGlyphs" stroke="#231f20" stroke-width="0.25">* 0.0411</text>
<circle cx="375.2" cy="381.1" r="2.75" fill="#bf3d4e" stroke="#1d1a1c" stroke-width="0.9"/>
<circle cx="375.2" cy="399.9" r="2.75" fill="#bf3d4e" stroke="#1d1a1c" stroke-width="0.9"/>
<circle cx="375.2" cy="412.5" r="2.75" fill="#bf3d4e" stroke="#1d1a1c" stroke-width="0.9"/>
<circle cx="375.2" cy="421.5" r="2.75" fill="#bf3d4e" stroke="#1d1a1c" stroke-width="0.9"/>
<circle cx="375.2" cy="449.6" r="2.75" fill="#bf3d4e" stroke="#1d1a1c" stroke-width="0.9"/>
<circle cx="375.2" cy="461.3" r="2.75" fill="#bf3d4e" stroke="#1d1a1c" stroke-width="0.9"/>
<rect x="397.2" y="452.2" width="5.6" height="5.6" fill="#5474a6" stroke="#1d1a1c" stroke-width="0.9"/>
<rect x="397.2" y="454.2" width="5.6" height="5.6" fill="#5474a6" stroke="#1d1a1c" stroke-width="0.9"/>
<rect x="397.2" y="453.2" width="5.6" height="5.6" fill="#5474a6" stroke="#1d1a1c" stroke-width="0.9"/>
<rect x="397.2" y="455.2" width="5.6" height="5.6" fill="#5474a6" stroke="#1d1a1c" stroke-width="0.9"/>
<rect x="397.2" y="447.2" width="5.6" height="5.6" fill="#5474a6" stroke="#1d1a1c" stroke-width="0.9"/>
<rect x="397.2" y="459.2" width="5.6" height="5.6" fill="#5474a6" stroke="#1d1a1c" stroke-width="0.9"/>
<line x1="375.2" y1="381.1" x2="400" y2="455" stroke="#000" stroke-width="1.05"/>
<line x1="375.2" y1="399.9" x2="400" y2="457" stroke="#000" stroke-width="1.05"/>
<line x1="375.2" y1="412.5" x2="400" y2="456" stroke="#000" stroke-width="1.05"/>
<line x1="375.2" y1="421.5" x2="400" y2="458" stroke="#000" stroke-width="1.05"/>
<line x1="375.2" y1="449.6" x2="400" y2="450" stroke="#000" stroke-width="1.05"/>
<line x1="375.2" y1="461.3" x2="400" y2="462" stroke="#000" stroke-width="1.05"/>
<text transform="translate(308.9,413.8) rotate(-90)" x="0" y="0" font-size="10.0" text-anchor="middle" fill="#231f20" textLength="96" lengthAdjust="spacingAndGlyphs" stroke="#231f20" stroke-width="0.25">CD3<tspan font-size="5.5" dy="-3.5">-</tspan><tspan dy="3.5">CD19</tspan><tspan font-size="5.5" dy="-3.5">-</tspan><tspan dy="3.5">CD56</tspan><tspan font-size="5.5" dy="-3.5">+</tspan><tspan dy="3.5">CD16</tspan><tspan font-size="5.5" dy="-3.5">+</tspan></text>
<text transform="translate(319.7,414.2) rotate(-90)" x="0" y="0" font-size="9.6" text-anchor="middle" fill="#231f20" textLength="73" lengthAdjust="spacingAndGlyphs" stroke="#231f20" stroke-width="0.25">NK cells (cells/ml)</text>
<circle cx="432.5" cy="219.6" r="2.9" fill="#bf3d4e" stroke="#1d1a1c" stroke-width="0.9"/>
<rect x="429.6" y="230.0" width="5.8" height="5.6" fill="#5474a6" stroke="#1d1a1c" stroke-width="0.9"/>
<line x1="427.7" y1="219.6" x2="437.3" y2="219.6" stroke="#1d1a1c" stroke-width="0.8" opacity="0.8"/>
<line x1="427.7" y1="232.8" x2="437.3" y2="232.8" stroke="#1d1a1c" stroke-width="0.8" opacity="0.8"/>
<text x="440.4" y="222.15" font-size="7.5" text-anchor="start" fill="#231f20" textLength="44.6" lengthAdjust="spacingAndGlyphs" stroke="#231f20" stroke-width="0.25">Pre Treatment</text>
<text x="440.4" y="235.35" font-size="7.5" text-anchor="start" fill="#231f20" textLength="62.5" lengthAdjust="spacingAndGlyphs" stroke="#231f20" stroke-width="0.25">24h Post Treatment</text>
<circle cx="432.6" cy="367.7" r="2.9" fill="#bf3d4e" stroke="#1d1a1c" stroke-width="0.9"/>
<rect x="429.70000000000005" y="378.0" width="5.8" height="5.6" fill="#5474a6" stroke="#1d1a1c" stroke-width="0.9"/>
<line x1="427.8" y1="367.7" x2="437.40000000000003" y2="367.7" stroke="#1d1a1c" stroke-width="0.8" opacity="0.8"/>
<line x1="427.8" y1="380.8" x2="437.40000000000003" y2="380.8" stroke="#1d1a1c" stroke-width="0.8" opacity="0.8"/>
<text x="440.3" y="370.25" font-size="7.5" text-anchor="start" fill="#231f20" textLength="44.9" lengthAdjust="spacingAndGlyphs" stroke="#231f20" stroke-width="0.25">Pre Treatment</text>
<text x="440.3" y="383.35" font-size="7.5" text-anchor="start" fill="#231f20" textLength="68.1" lengthAdjust="spacingAndGlyphs" stroke="#231f20" stroke-width="0.25">24hrs Post Treatment</text>
</svg>
</body></html>
